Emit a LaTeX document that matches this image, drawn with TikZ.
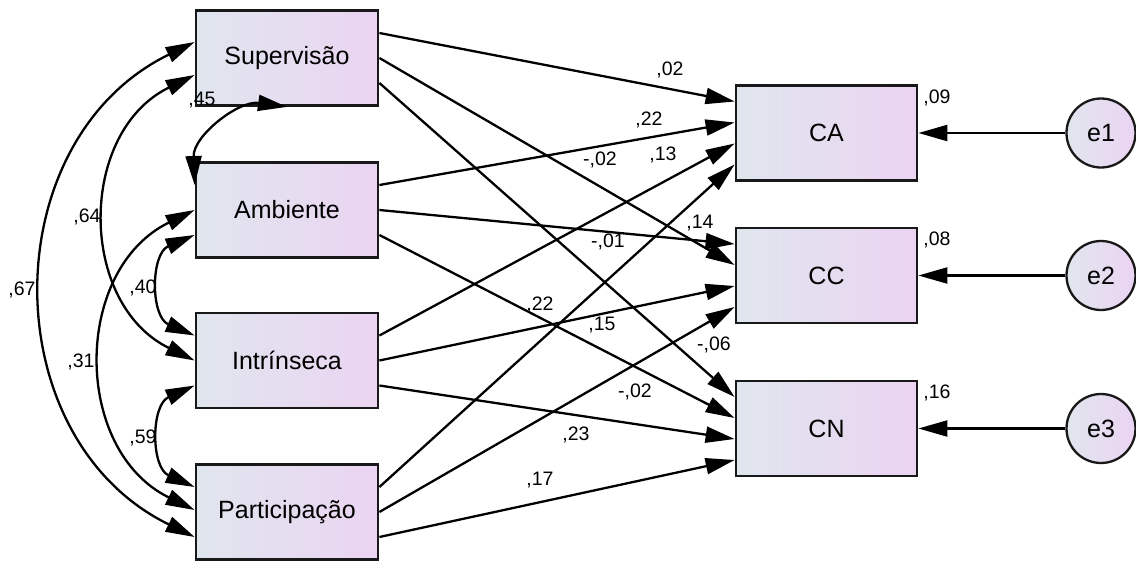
\documentclass[tikz,border=0pt]{standalone}
\usepackage{fontspec}
\setmainfont{Liberation Sans}
\usetikzlibrary{arrows.meta,calc}
\definecolor{boxL}{RGB}{224,230,238}
\definecolor{boxR}{RGB}{235,212,242}
\definecolor{edge}{RGB}{25,25,25}
\tikzset{
  Big/.tip={Triangle[length=29pt,width=16pt]},
  var/.style={draw=edge, line width=2.8pt, minimum width=182pt, minimum height=95pt,
    left color=boxL, right color=boxR, inner sep=0pt, font=\fontsize{25}{30}\selectfont},
  err/.style={circle, draw=edge, line width=2.3pt, minimum size=69pt, inner sep=0pt,
    left color=boxL, right color=boxR, font=\fontsize{25}{30}\selectfont},
  reg/.style={-Big, line width=2.3pt},
  cov/.style={Big-Big, line width=2.3pt},
  lab/.style={font=\fontsize{19.5}{22}\selectfont, inner sep=0pt}
}
\begin{document}
\begin{tikzpicture}[x=1pt,y=1pt]
\useasboundingbox (0,0) rectangle (1136,-560);
% exogenous
\node[var] (sup) at (287,-58) {Supervisão};
\node[var] (amb) at (287,-210) {Ambiente};
\node[var] (int) at (287,-360.5) {Intrínseca};
\node[var] (par) at (287,-512) {Participação};
% endogenous
\node[var, minimum width=181pt] (ca) at (826.5,-133) {CA};
\node[var, minimum width=181pt] (cc) at (826.5,-275.5) {CC};
\node[var, minimum width=181pt] (cn) at (826.5,-428.5) {CN};
% errors
\node[err] (e1) at (1101,-133) {e1};
\node[err] (e2) at (1101,-275.5) {e2};
\node[err] (e3) at (1101,-428.5) {e3};
\draw[reg] (e1) -- (ca);
\draw[reg] (e2) -- (cc);
\draw[reg] (e3) -- (cn);
% regression paths
\draw[reg] ([yshift=25pt]sup.east) -- ([yshift=31.5pt]ca.west);
\draw[reg] (sup.east) -- ([yshift=10.5pt]cc.west);
\draw[reg] ([yshift=-25pt]sup.east) -- ([yshift=31.5pt]cn.west);
\draw[reg] ([yshift=25pt]amb.east) -- ([yshift=10.5pt]ca.west);
\draw[reg] (amb.east) -- ([yshift=31.5pt]cc.west);
\draw[reg] ([yshift=-25pt]amb.east) -- ([yshift=10.5pt]cn.west);
\draw[reg] ([yshift=25pt]int.east) -- ([yshift=-10.5pt]ca.west);
\draw[reg] (int.east) -- ([yshift=-10.5pt]cc.west);
\draw[reg] ([yshift=-25pt]int.east) -- ([yshift=-10.5pt]cn.west);
\draw[reg] ([yshift=25pt]par.east) -- ([yshift=-31.5pt]ca.west);
\draw[reg] (par.east) -- ([yshift=-31.5pt]cc.west);
\draw[reg] ([yshift=-25pt]par.east) -- ([yshift=-31.5pt]cn.west);
% covariance ports
\coordinate (s1) at ([yshift=16pt]sup.west);
\coordinate (s2) at ([yshift=-17pt]sup.west);
\coordinate (a0) at ([yshift=25pt]amb.west);
\coordinate (a1) at (amb.west);
\coordinate (a2) at ([yshift=-25pt]amb.west);
\coordinate (i1) at ([yshift=25pt]int.west);
\coordinate (i2) at (int.west);
\coordinate (i3) at ([yshift=-25pt]int.west);
\coordinate (p1) at ([yshift=25pt]par.west);
\coordinate (p2) at ([yshift=2pt]par.west);
\coordinate (p3) at ([yshift=-25pt]par.west);
\draw[cov] (s1) to[out=206,in=154,distance=224pt] (p3);
\draw[cov] (s2) to[out=206,in=154,distance=130pt] (i2);
\draw[cov] (a1) to[out=206,in=154,distance=136pt] (p2);
\draw[cov] (a2) to[out=203,in=157,distance=48pt] (i1);
\draw[cov] (i3) to[out=204,in=156,distance=48pt] (p1);
\draw[cov] (sup.south) to[out=172,in=92,distance=49pt] (a0);
% labels
\node[lab] (l1) at (670,-70) {,02};
\node[lab] (l2) at (649,-120) {,22};
\node[lab] (l3) at (600,-160) {-,02};
\node[lab] (l4) at (663,-155) {,13};
\node[lab] (l5) at (700,-223) {,14};
\node[lab] (l6) at (608,-242) {-,01};
\node[lab] (l7) at (540,-305) {,22};
\node[lab] (l8) at (602,-325) {,15};
\node[lab] (l9) at (714,-345) {-,06};
\node[lab] (l10) at (635,-392) {-,02};
\node[lab] (l11) at (576,-435) {,23};
\node[lab] (l12) at (540,-480) {,17};
\node[lab] (r1) at (937,-98) {,09};
\node[lab] (r2) at (937,-240) {,08};
\node[lab] (r3) at (937,-393) {,16};
\node[lab] (c1) at (22,-290) {,67};
\node[lab] (c2) at (87,-217) {,64};
\node[lab] (c3) at (202,-100) {,45};
\node[lab] (c4) at (143,-288) {,40};
\node[lab] (c5) at (81,-362) {,31};
\node[lab] (c6) at (143,-438) {,59};
\end{tikzpicture}
\end{document}
